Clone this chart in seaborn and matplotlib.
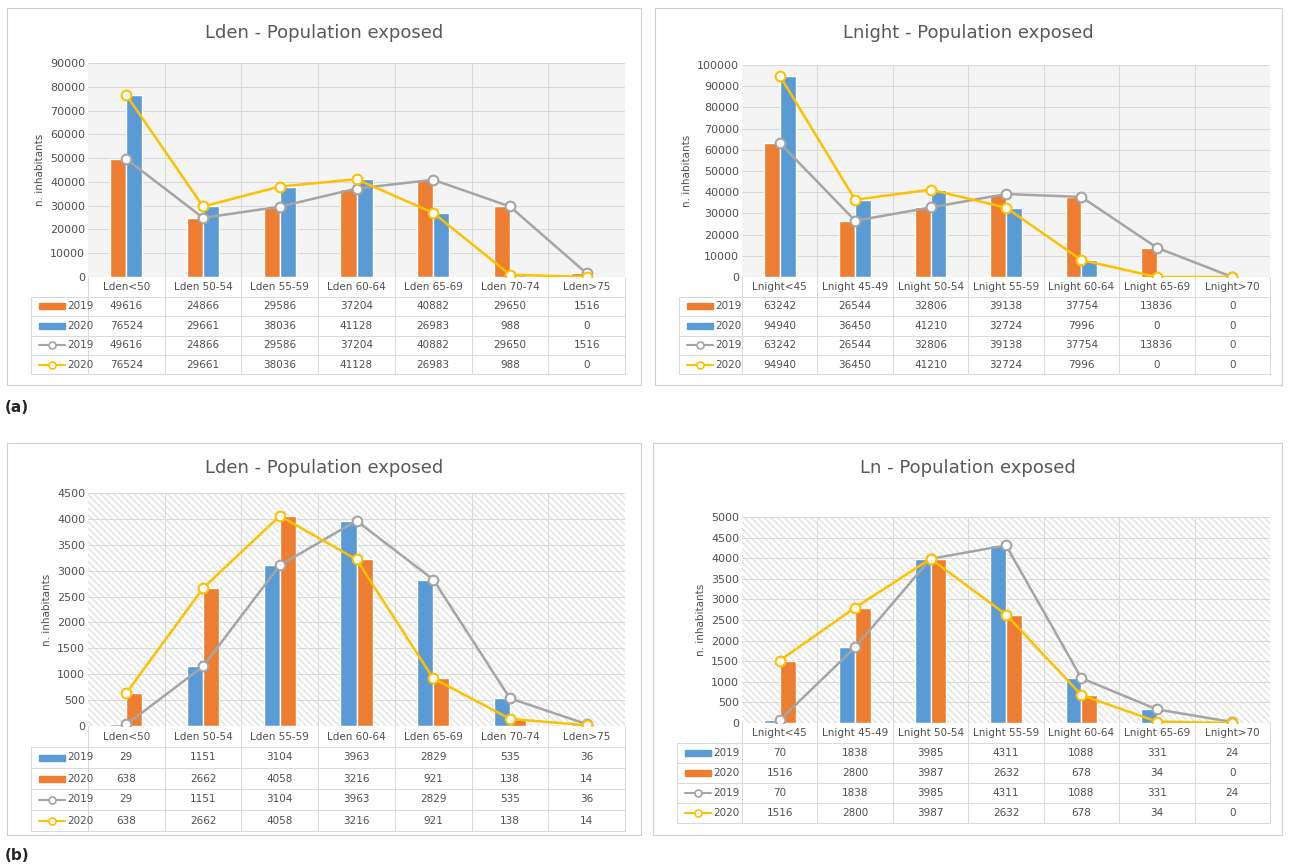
import numpy as np
import pandas as pd
import seaborn as sns
import matplotlib.pyplot as plt
from matplotlib.patches import Rectangle
from matplotlib.lines import Line2D

lden_cats = ["Lden<50", "Lden 50-54", "Lden 55-59", "Lden 60-64", "Lden 65-69", "Lden 70-74", "Lden>75"]
lnight_cats = ["Lnight<45", "Lnight 45-49", "Lnight 50-54", "Lnight 55-59", "Lnight 60-64", "Lnight 65-69", "Lnight>70"]

a_lden_2019 = [49616, 24866, 29586, 37204, 40882, 29650, 1516]
a_lden_2020 = [76524, 29661, 38036, 41128, 26983, 988, 0]
a_lnight_2019 = [63242, 26544, 32806, 39138, 37754, 13836, 0]
a_lnight_2020 = [94940, 36450, 41210, 32724, 7996, 0, 0]
b_lden_2019 = [29, 1151, 3104, 3963, 2829, 535, 36]
b_lden_2020 = [638, 2662, 4058, 3216, 921, 138, 14]
b_ln_2019 = [70, 1838, 3985, 4311, 1088, 331, 24]
b_ln_2020 = [1516, 2800, 3987, 2632, 678, 34, 0]

ORANGE, BLUE, GREY, YELLOW = "#ed7d31", "#5b9bd5", "#a5a5a5", "#ffc000"
TXT = "#505050"
W, H = 1290, 868

sns.set_theme(style="white")
plt.rcParams['font.family'] = ['DejaVu Sans']
fig = plt.figure(figsize=(12.9, 8.68), dpi=100)


def fx(x):
    return x / W


def fy(y):
    return 1 - y / H


def panel(box, plot, title, cats, v19, v20, c19, c20, ymax, ystep, hatched, row_h):
    bx0, by0, bx1, by1 = box
    px0, py0, px1, py1 = plot
    fig.patches.append(Rectangle((fx(bx0), fy(by1)), fx(bx1 - bx0), (by1 - by0) / H,
                                 transform=fig.transFigure, fill=False, ec="#d0d0d0", lw=0.8))
    fig.text(fx((bx0 + bx1) / 2), fy(by0 + 25), title, ha="center", va="center", fontsize=13, color="#595959")
    ax = fig.add_axes([fx(px0), fy(py1), fx(px1 - px0), (py1 - py0) / H])
    n = len(cats)
    df = pd.DataFrame({"cat": cats * 2, "val": v19 + v20, "year": ["2019"] * n + ["2020"] * n})
    sns.barplot(data=df, x="cat", y="val", hue="year", palette=[c19, c20], width=0.42,
                ax=ax, legend=False, saturation=1)
    ax.plot(range(n), v19, color=GREY, lw=1.8, marker="o", mfc="white", mec=GREY, ms=7, mew=1.5, zorder=5)
    ax.plot(range(n), v20, color=YELLOW, lw=1.8, marker="o", mfc="white", mec=YELLOW, ms=7, mew=1.5, zorder=6)
    ax.set_xlim(-0.5, n - 0.5)
    ax.set_ylim(0, ymax)
    ax.set_yticks(np.arange(0, ymax + 1, ystep))
    ax.tick_params(axis="y", labelsize=8, colors=TXT, length=0, pad=2)
    ax.set_xticks([])
    ax.set_xlabel("")
    ax.set_ylabel("n. inhabitants", fontsize=7.5, color=TXT)
    if hatched:
        ax.set_facecolor("white")
        ax.add_patch(Rectangle((0, 0), 1, 1, transform=ax.transAxes, fill=False, hatch="\\\\\\\\\\",
                               ec="#e2e2e2", lw=0, zorder=0))
    else:
        ax.set_facecolor("#f4f4f4")
    for y in np.arange(ystep, ymax + 1, ystep):
        ax.axhline(y, color="#d9d9d9", lw=0.7, zorder=0.5)
    for x in np.arange(0.5, n - 0.5, 1):
        ax.axvline(x, color="#d9d9d9", lw=0.7, zorder=0.5)
    for s in ax.spines.values():
        s.set_visible(False)
    ax.axhline(0, color="#d9d9d9", lw=0.8)

    # data table
    colw = (px1 - px0) / n
    rows = [None, ("bar", c19, "2019", v19), ("bar", c20, "2020", v20),
            ("line", GREY, "2019", v19), ("line", YELLOW, "2020", v20)]
    lx0 = bx0 + 22
    top = py1
    for r, row in enumerate(rows):
        yc = top + (r + 0.5) * row_h
        if row is None:
            for i, c in enumerate(cats):
                fig.text(fx(px0 + (i + 0.5) * colw), fy(yc), c, ha="center", va="center", fontsize=7.5, color=TXT)
            continue
        kind, col, lab, vals = row
        if kind == "bar":
            fig.patches.append(Rectangle((fx(lx0 + 10), fy(yc + 3)), fx(26), 6 / H, transform=fig.transFigure,
                                         color=col))
        else:
            fig.lines.append(Line2D([fx(lx0 + 10), fx(lx0 + 36)], [fy(yc), fy(yc)], transform=fig.transFigure,
                                    color=col, lw=1.5))
            fig.lines.append(Line2D([fx(lx0 + 23)], [fy(yc)], transform=fig.transFigure, color=col,
                                    marker="o", mfc="white", ms=5, mew=1.2))
        fig.text(fx(lx0 + 38), fy(yc), lab, ha="left", va="center", fontsize=7.5, color=TXT)
        for i, v in enumerate(vals):
            fig.text(fx(px0 + (i + 0.5) * colw), fy(yc), f"{v}", ha="center", va="center", fontsize=7.5, color=TXT)
    # grid of table
    bottom = top + 5 * row_h
    for r in range(1, 6):
        y = top + r * row_h
        fig.lines.append(Line2D([fx(lx0 + 2), fx(px1)], [fy(y), fy(y)], transform=fig.transFigure,
                                color="#d9d9d9", lw=0.7))
    for i in range(n + 1):
        x = px0 + i * colw
        fig.lines.append(Line2D([fx(x), fx(x)], [fy(top), fy(bottom)], transform=fig.transFigure,
                                color="#d9d9d9", lw=0.7))
    fig.lines.append(Line2D([fx(lx0 + 2), fx(lx0 + 2)], [fy(top + row_h), fy(bottom)], transform=fig.transFigure,
                            color="#d9d9d9", lw=0.7))


panel((7, 8, 641, 385), (88, 63, 625, 277), "Lden - Population exposed", lden_cats,
      a_lden_2019, a_lden_2020, ORANGE, BLUE, 90000, 10000, False, 19.5)
panel((655, 8, 1282, 385), (742, 65, 1270, 277), "Lnight - Population exposed", lnight_cats,
      a_lnight_2019, a_lnight_2020, ORANGE, BLUE, 100000, 10000, False, 19.5)
panel((7, 443, 641, 835), (88, 493, 625, 726), "Lden - Population exposed", lden_cats,
      b_lden_2019, b_lden_2020, BLUE, ORANGE, 4500, 500, True, 21)
panel((653, 443, 1282, 835), (742, 517, 1270, 723), "Ln - Population exposed", lnight_cats,
      b_ln_2019, b_ln_2020, BLUE, ORANGE, 5000, 500, True, 20)

fig.text(fx(5), fy(408), "(a)", fontsize=11, fontweight="bold", va="center")
fig.text(fx(5), fy(856), "(b)", fontsize=11, fontweight="bold", va="center")

fig.savefig("out.png", dpi=100, facecolor="white")
